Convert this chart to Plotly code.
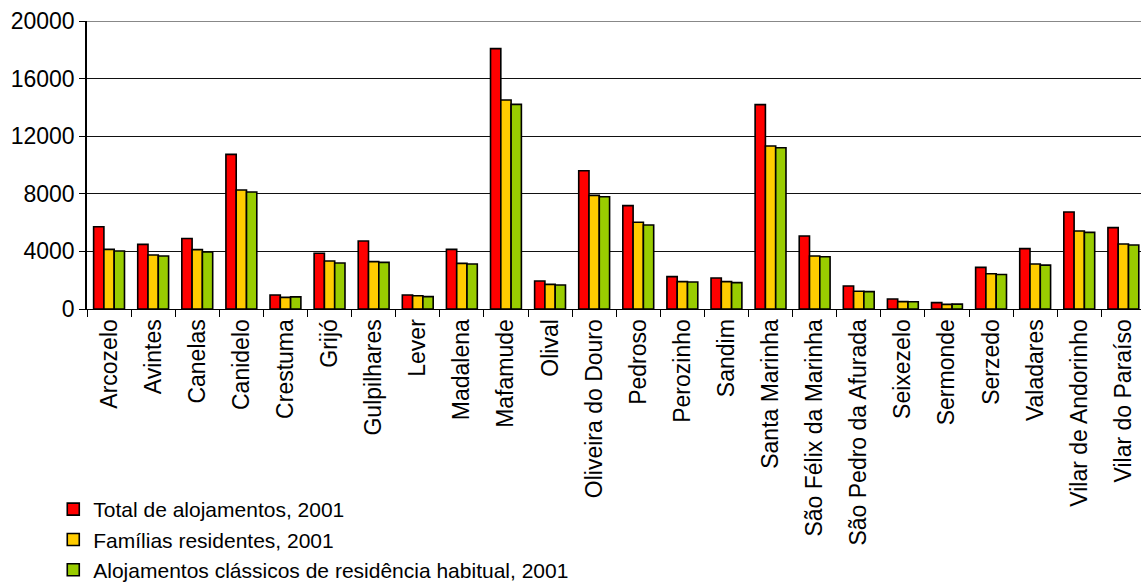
import plotly.graph_objects as go

categories = ["Arcozelo", "Avintes", "Canelas", "Canidelo", "Crestuma", "Grijó",
              "Gulpilhares", "Lever", "Madalena", "Mafamude", "Olival",
              "Oliveira do Douro", "Pedroso", "Perozinho", "Sandim", "Santa Marinha",
              "São Félix da Marinha", "São Pedro da Afurada", "Seixezelo", "Sermonde",
              "Serzedo", "Valadares", "Vilar de Andorinho", "Vilar do Paraíso"]

total_alojamentos = [5710, 4490, 4900, 10740, 970, 3870, 4720, 970, 4140, 18080, 1940,
                     9600, 7180, 2250, 2150, 14190, 5070, 1600, 690, 440, 2890, 4190, 6740, 5650]
familias_residentes = [4140, 3750, 4120, 8260, 810, 3330, 3290, 920, 3170, 14510, 1710,
                       7890, 6020, 1900, 1900, 11320, 3680, 1230, 510, 320, 2450, 3120, 5420, 4510]
alojamentos_classicos = [4030, 3680, 3960, 8120, 840, 3190, 3240, 860, 3120, 14210, 1670,
                         7800, 5830, 1870, 1830, 11200, 3630, 1210, 500, 340, 2400, 3050, 5320, 4440]

series_names = ["Total de alojamentos, 2001", "Famílias residentes, 2001",
                "Alojamentos clássicos de residência habitual, 2001"]
colors = ["#FF0000", "#FFCC00", "#99CC00"]
y_ticks = [0, 4000, 8000, 12000, 16000, 20000]

fig = go.Figure()
for name, vals, col in zip(series_names, [total_alojamentos, familias_residentes, alojamentos_classicos], colors):
    fig.add_trace(go.Bar(x=categories, y=vals, name=name,
                         marker=dict(color=col, line=dict(color="black", width=1.6))))

FONT = "Liberation Sans, Arial, sans-serif"
fig.update_layout(
    width=1141, height=585,
    margin=dict(l=87, r=0, t=21, b=276, autoexpand=False),
    paper_bgcolor="white", plot_bgcolor="white",
    barmode="group", bargap=0.3, bargroupgap=0,
    font=dict(family=FONT, size=21, color="black"),
    showlegend=True,
    legend=dict(x=-0.032, y=-0.625, xanchor="left", yanchor="top",
                font=dict(family=FONT, size=21, color="black"),
                itemwidth=30, tracegroupgap=0, bgcolor="rgba(0,0,0,0)"),
    xaxis=dict(type="category", range=[-0.5, 23.4], tickangle=-90, automargin=False,
               showline=True, linecolor="black", linewidth=1,
               ticks="outside", ticklen=7, tickcolor="black", tickson="boundaries",
               tickfont=dict(family=FONT, size=23, color="black"), showgrid=False),
    yaxis=dict(range=[0, 20000], tickvals=y_ticks, ticktext=[str(v) for v in y_ticks],
               automargin=False,
               showline=True, linecolor="black", linewidth=1.5,
               ticks="outside", ticklen=6, tickcolor="black",
               showgrid=True, gridcolor="#111111", gridwidth=1, zeroline=False,
               tickfont=dict(family=FONT, size=23, color="black")),
)
fig.add_shape(type="line", xref="paper", yref="y", x0=0, x1=1, y0=20000, y1=20000,
              line=dict(color="#888888", width=2))
fig.write_html("out.html")
